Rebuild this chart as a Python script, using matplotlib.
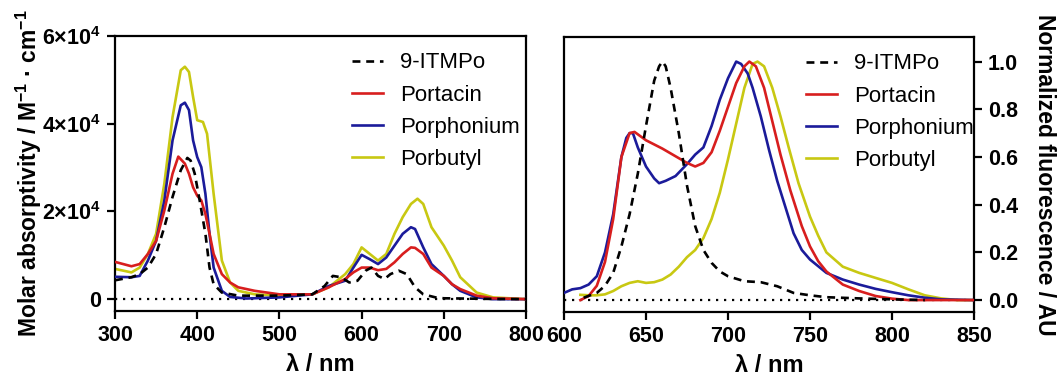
import numpy as np
import matplotlib
matplotlib.use('Agg')
import matplotlib.pyplot as plt

plt.rcParams['font.family'] = ['Liberation Sans', 'DejaVu Sans']
plt.rcParams['mathtext.fontset'] = 'custom'
plt.rcParams['mathtext.rm'] = 'Liberation Sans'
plt.rcParams['mathtext.bf'] = 'Liberation Sans:bold'
plt.rcParams['mathtext.default'] = 'bf'

# --- absorption (left panel) ---
abs_itmpo_x = [300, 320, 330, 340, 350, 360, 370, 380, 388, 392, 397, 403, 410, 415, 420, 430, 450,
               500, 540, 555, 565, 575, 585, 595, 605, 612, 620, 628, 635, 645, 655, 665, 675, 690,
               700, 720, 760, 800]
abs_itmpo_y = [4300, 5000, 5700, 7200, 10300, 16400, 23300, 29400, 32200, 31600, 28600, 22500, 14900,
               7200, 3400, 1500, 800, 800, 1100, 3000, 5300, 5000, 3800, 4200, 6500, 7200, 5300, 4600,
               5700, 6500, 5700, 2700, 1100, 400, 200, 150, 50, 0]

abs_portacin_x = [300, 320, 330, 340, 350, 360, 370, 377, 385, 390, 395, 400, 405, 410, 415, 420, 430,
                  440, 450, 470, 500, 540, 560, 580, 590, 600, 610, 620, 630, 640, 650, 660, 665, 675,
                  685, 700, 710, 720, 740, 760, 800]
abs_portacin_y = [8500, 7500, 8000, 10300, 13300, 20200, 28600, 32500, 30900, 28600, 25500, 23600, 22500,
                  19400, 14900, 10300, 5700, 3800, 2700, 1900, 1100, 1100, 2700, 4600, 6100, 7200, 7200,
                  6600, 6900, 8400, 10300, 11800, 11700, 10300, 7200, 5300, 3400, 2300, 800, 200, 0]

abs_porphonium_x = [300, 320, 330, 340, 350, 360, 370, 380, 385, 390, 395, 400, 405, 410, 415, 420, 430,
                    440, 460, 500, 540, 560, 580, 590, 600, 610, 620, 630, 640, 650, 660, 665, 675, 685,
                    700, 710, 720, 740, 760, 800]
abs_porphonium_y = [5100, 5000, 5300, 8800, 13300, 22500, 36200, 44200, 44800, 43100, 36200, 32400, 30100,
                    24000, 14900, 7200, 1900, 500, 150, 400, 1100, 3000, 4200, 7200, 10100, 9100, 8000,
                    9500, 12200, 14900, 16400, 16000, 11800, 8000, 5300, 3400, 1900, 400, 0, 0]

abs_porbutyl_x = [300, 320, 330, 340, 350, 360, 370, 380, 385, 390, 395, 400, 407, 412, 420, 430, 440,
                  450, 470, 500, 540, 560, 580, 590, 600, 610, 620, 630, 640, 650, 660, 668, 675, 685,
                  700, 710, 720, 740, 760, 800]
abs_porbutyl_y = [6900, 6100, 7200, 10300, 14900, 26300, 41500, 52200, 53000, 51800, 46100, 40800, 40400,
                  37700, 24000, 8800, 3800, 1900, 1100, 800, 1100, 2700, 5700, 8000, 11800, 10300, 8800,
                  10300, 14900, 18700, 21700, 22900, 21700, 16400, 12200, 8800, 5000, 1500, 400, 0]

# --- fluorescence (right panel) ---
fl_itmpo_x = [612, 620, 625, 630, 635, 640, 645, 650, 655, 658, 660, 662, 665, 670, 675, 680, 685, 690,
              695, 700, 710, 720, 730, 740, 750, 760, 780, 800, 820]
fl_itmpo_y = [0.01, 0.03, 0.06, 0.114, 0.225, 0.36, 0.53, 0.73, 0.92, 0.98, 1.0, 0.98, 0.89, 0.70, 0.48,
              0.31, 0.21, 0.156, 0.12, 0.10, 0.079, 0.075, 0.058, 0.03, 0.02, 0.012, 0.007, 0.003, 0.0]

fl_portacin_x = [610, 615, 620, 625, 630, 635, 640, 643, 650, 660, 670, 675, 680, 685, 690, 695, 700, 705,
                 710, 713, 717, 722, 727, 732, 738, 745, 750, 755, 760, 770, 780, 790, 800, 810, 850]
fl_portacin_y = [0.0, 0.017, 0.06, 0.16, 0.34, 0.60, 0.70, 0.705, 0.67, 0.635, 0.595, 0.575, 0.56, 0.575,
                 0.62, 0.71, 0.81, 0.91, 0.98, 1.0, 0.98, 0.89, 0.75, 0.61, 0.46, 0.31, 0.225, 0.163,
                 0.12, 0.065, 0.038, 0.017, 0.006, 0.0, 0.0]

fl_porphonium_x = [600, 605, 610, 615, 620, 625, 630, 635, 638, 640, 642, 645, 650, 655, 658, 662, 668,
                   675, 680, 685, 690, 695, 700, 705, 708, 712, 715, 720, 725, 730, 735, 740, 745, 750,
                   760, 770, 780, 790, 800, 810, 820, 830, 850]
fl_porphonium_y = [0.03, 0.045, 0.05, 0.065, 0.10, 0.20, 0.36, 0.60, 0.68, 0.70, 0.70, 0.64, 0.56, 0.51,
                   0.49, 0.50, 0.52, 0.57, 0.61, 0.64, 0.73, 0.84, 0.93, 1.0, 0.99, 0.95, 0.89, 0.77,
                   0.63, 0.50, 0.39, 0.28, 0.21, 0.17, 0.114, 0.086, 0.065, 0.047, 0.033, 0.02, 0.01,
                   0.003, 0.0]

fl_porbutyl_x = [610, 615, 620, 625, 630, 635, 640, 645, 650, 655, 660, 665, 670, 675, 680, 685, 690, 695,
                 700, 705, 710, 715, 718, 722, 727, 732, 737, 743, 750, 755, 760, 770, 780, 790, 800, 810,
                 820, 830, 840, 850]
fl_porbutyl_y = [0.022, 0.02, 0.02, 0.024, 0.038, 0.058, 0.072, 0.079, 0.072, 0.075, 0.086, 0.107, 0.14,
                 0.18, 0.21, 0.26, 0.34, 0.45, 0.59, 0.74, 0.89, 0.99, 1.0, 0.98, 0.89, 0.77, 0.64, 0.49,
                 0.35, 0.27, 0.20, 0.14, 0.114, 0.093, 0.072, 0.045, 0.02, 0.007, 0.0, 0.0]

labels = ['9-ITMPo', 'Portacin', 'Porphonium', 'Porbutyl']
colors = ['black', '#d81e1e', '#1b1b9a', '#c8c812']

fig = plt.figure(figsize=(10.59, 3.78), dpi=100)
ax1 = fig.add_axes([115 / 1059, 1 - 311 / 378, 411 / 1059, 275 / 378])
ax2 = fig.add_axes([564 / 1059, 1 - 312 / 378, 410 / 1059, 275 / 378])

lw = 1.9


def draw(ax, series):
    for (xs, ys), lab, col, z in zip(series, labels, colors, [5, 4, 3, 2]):
        if lab == '9-ITMPo':
            ax.plot(xs, ys, color=col, lw=lw, ls=(0, (3.0, 2.2)), label=lab, zorder=z)
        else:
            ax.plot(xs, ys, color=col, lw=lw, label=lab, zorder=z)


draw(ax1, [(abs_itmpo_x, abs_itmpo_y), (abs_portacin_x, abs_portacin_y),
           (abs_porphonium_x, abs_porphonium_y), (abs_porbutyl_x, abs_porbutyl_y)])
draw(ax2, [(fl_itmpo_x, fl_itmpo_y), (fl_portacin_x, fl_portacin_y),
           (fl_porphonium_x, fl_porphonium_y), (fl_porbutyl_x, fl_porbutyl_y)])

# dotted zero lines
ax1.axhline(0, color='black', lw=1.6, ls=(0, (1, 2.6)), zorder=1)
ax2.axhline(0, color='black', lw=1.6, ls=(0, (1, 2.6)), zorder=1)

ax1.set_xlim(300, 800)
ax1.set_ylim(-2700, 60000)
ax1.set_xticks([300, 400, 500, 600, 700, 800])
ax1.set_yticks([0, 20000, 40000, 60000])
ax1.set_yticklabels(['0', '2×10$^4$', '4×10$^4$', '6×10$^4$'])
ax1.set_xlabel('λ / nm', fontsize=17, fontweight='bold', labelpad=5)
ax1.set_ylabel('Molar absorptivity / M$^{-1}$ · cm$^{-1}$', fontsize=16.5, fontweight='bold', labelpad=-1)

ax2.set_xlim(600, 850)
ax2.set_ylim(-0.05, 1.103)
ax2.set_xticks([600, 650, 700, 750, 800, 850])
ax2.set_yticks([0.0, 0.2, 0.4, 0.6, 0.8, 1.0])
ax2.set_yticklabels(['0.0', '0.2', '0.4', '0.6', '0.8', '1.0'])
ax2.yaxis.tick_right()
ax2.yaxis.set_label_position('right')
ax2.set_xlabel('λ / nm', fontsize=17, fontweight='bold', labelpad=5)
ax2.set_ylabel('Normalized fluorescence / AU', fontsize=16.5, fontweight='bold', rotation=270, labelpad=27)

for ax in (ax1, ax2):
    for s in ax.spines.values():
        s.set_linewidth(1.6)
    ax.tick_params(direction='out', length=6, width=1.6, labelsize=15.5, pad=4)
    for t in ax.get_xticklabels() + ax.get_yticklabels():
        t.set_fontweight('bold')

ax1.legend(loc='upper left', bbox_to_anchor=(0.577, 0.94), frameon=False, fontsize=16,
           borderpad=0, borderaxespad=0, handlelength=1.4, handletextpad=0.75, labelspacing=0.5)
ax2.legend(loc='upper left', bbox_to_anchor=(0.590, 0.94), frameon=False, fontsize=16,
           borderpad=0, borderaxespad=0, handlelength=1.4, handletextpad=0.75, labelspacing=0.5)

fig.savefig('out.png', dpi=100)
